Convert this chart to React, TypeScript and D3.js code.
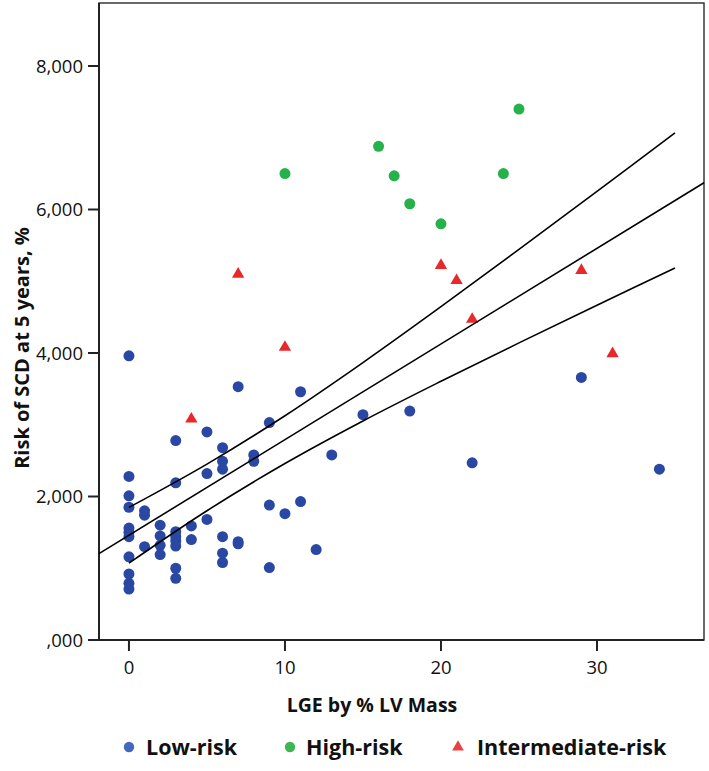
import React from "react";
import * as d3 from "d3";

// ---- Data ----
const lowRiskX = [
  0, 0, 0, 0, 0, 0, 0, 0, 0, 0, 0,
  1, 1, 1,
  2, 2, 2, 2,
  3, 3, 3, 3, 3, 3, 3, 3,
  4, 4,
  5, 5, 5,
  6, 6, 6, 6, 6, 6,
  7, 7, 7,
  8, 8,
  9, 9, 9,
  10,
  11, 11,
  12, 13, 15, 18, 22, 29, 34,
];
const lowRiskY = [
  3960, 2280, 2010, 1850, 1560, 1500, 1440, 1160, 920, 790, 710,
  1800, 1740, 1300,
  1600, 1450, 1320, 1190,
  2780, 2190, 1510, 1440, 1380, 1310, 1000, 860,
  1590, 1400,
  2900, 2320, 1680,
  2680, 2490, 2380, 1440, 1210, 1080,
  3530, 1370, 1340,
  2580, 2490,
  3030, 1880, 1010,
  1760,
  3460, 1930,
  1260, 2580, 3140, 3190, 2470, 3660, 2380,
];
const highRiskX = [10, 16, 17, 18, 20, 24, 25];
const highRiskY = [6500, 6880, 6470, 6080, 5800, 6500, 7400];
const interRiskX = [4, 7, 10, 20, 21, 22, 29, 31];
const interRiskY = [3080, 5100, 4080, 5220, 5010, 4470, 5150, 3990];

// Fit line (spans the plot) and confidence band read at sampled x values
const fitX = [-1.92, 36.86];
const fitY = [1204, 6373];
const ciX = [0, 5, 10, 15, 20, 25, 30, 35];
const ciUpper = [1848, 2452, 3126, 3867, 4646, 5445, 6253, 7067];
const ciLower = [1072, 1802, 2460, 3053, 3606, 4141, 4665, 5185];

const yTickValues = [0, 2000, 4000, 6000, 8000];
const yTickLabels = [",000", "2,000", "4,000", "6,000", "8,000"];
const xTickValues = [0, 10, 20, 30];

const legendLabels = ["Low-risk", "High-risk", "Intermediate-risk"];

const W = 709;
const H = 771;
const FONT = "'Open Sans', 'DejaVu Sans', sans-serif";

const BLUE = "#2a48a3";
const GREEN = "#26b24b";
const RED = "#e8282b";

export default function App() {
  const left = 99, right = 704, top = 3, bottom = 640;
  const x = d3.scaleLinear().domain([-1.92, 36.86]).range([left, right]);
  const y = d3.scaleLinear().domain([0, 8878]).range([bottom, top]);

  const line = d3
    .line<[number, number]>()
    .x((d) => x(d[0]))
    .y((d) => y(d[1]));
  const curve = d3
    .line<[number, number]>()
    .x((d) => x(d[0]))
    .y((d) => y(d[1]))
    .curve(d3.curveCatmullRom);

  const fitPts = fitX.map((v, i) => [v, fitY[i]] as [number, number]);
  const upPts = ciX.map((v, i) => [v, ciUpper[i]] as [number, number]);
  const loPts = ciX.map((v, i) => [v, ciLower[i]] as [number, number]);

  const tri = d3.symbol(d3.symbolTriangle, 66)() as string;
  const triLegend = d3.symbol(d3.symbolTriangle, 60)() as string;

  const legendY = 747;
  const legendItems = [
    { kind: "circle", color: "#4468c0", mx: 129, tx: 146, label: legendLabels[0] },
    { kind: "circle", color: "#3db755", mx: 290, tx: 306, label: legendLabels[1] },
    { kind: "tri", color: "#e84343", mx: 458, tx: 477, label: legendLabels[2] },
  ];

  return (
    <svg
      width={W}
      height={H}
      viewBox={`0 0 ${W} ${H}`}
      style={{ position: "absolute", left: 0, top: 0, background: "#fff" }}
      fontFamily={FONT}
    >
      <rect x={0} y={0} width={W} height={H} fill="#fff" />
      {/* frame */}
      <rect
        x={left}
        y={top}
        width={right - left}
        height={bottom - top}
        fill="none"
        stroke="#2a2a2a"
        strokeWidth={1.4}
      />
      <line x1={left} x2={left} y1={top} y2={bottom + 1} stroke="#222" strokeWidth={2} />
      <line x1={left - 1} x2={right} y1={bottom} y2={bottom} stroke="#222" strokeWidth={2} />

      {/* y ticks */}
      {yTickValues.map((v, i) => (
        <g key={"yt" + v}>
          <line x1={left - 11} x2={left} y1={y(v)} y2={y(v)} stroke="#222" strokeWidth={2} />
          <text
            x={83}
            y={y(v)}
            dy="0.36em"
            textAnchor="end"
            fontSize={18.5}
            fill="#111"
          >
            {yTickLabels[i]}
          </text>
        </g>
      ))}

      {/* x ticks */}
      {xTickValues.map((v) => (
        <g key={"xt" + v}>
          <line x1={x(v)} x2={x(v)} y1={bottom} y2={bottom + 11} stroke="#222" strokeWidth={2} />
          <text x={x(v)} y={674} textAnchor="middle" fontSize={18.5} fill="#111">
            {v}
          </text>
        </g>
      ))}

      {/* axis titles */}
      <text x={372} y={712} textAnchor="middle" fontSize={19.5} fontWeight={700} fill="#111">
        LGE by % LV Mass
      </text>
      <text
        transform={`translate(29, 348) rotate(-90)`}
        textAnchor="middle"
        fontSize={20}
        fontWeight={700}
        fill="#111"
      >
        Risk of SCD at 5 years, %
      </text>

      {/* points */}
      {lowRiskX.map((v, i) => (
        <circle key={"lo" + i} cx={x(v)} cy={y(lowRiskY[i])} r={5.5} fill={BLUE} />
      ))}
      {highRiskX.map((v, i) => (
        <circle key={"hi" + i} cx={x(v)} cy={y(highRiskY[i])} r={5.5} fill={GREEN} />
      ))}
      {interRiskX.map((v, i) => (
        <path
          key={"in" + i}
          d={tri}
          transform={`translate(${x(v)},${y(interRiskY[i])})`}
          fill={RED}
        />
      ))}

      {/* fit lines */}
      <path d={line(fitPts) as string} fill="none" stroke="#000" strokeWidth={1.6} />
      <path d={curve(upPts) as string} fill="none" stroke="#000" strokeWidth={1.6} />
      <path d={curve(loPts) as string} fill="none" stroke="#000" strokeWidth={1.6} />

      {/* legend */}
      {legendItems.map((it) => (
        <g key={it.label}>
          {it.kind === "circle" ? (
            <circle cx={it.mx} cy={legendY} r={5.2} fill={it.color} />
          ) : (
            <path d={triLegend} transform={`translate(${it.mx},${legendY})`} fill={it.color} />
          )}
          <text
            x={it.tx}
            y={legendY}
            dy="0.36em"
            fontSize={21.5}
            fontWeight={700}
            fill="#111"
          >
            {it.label}
          </text>
        </g>
      ))}
    </svg>
  );
}
